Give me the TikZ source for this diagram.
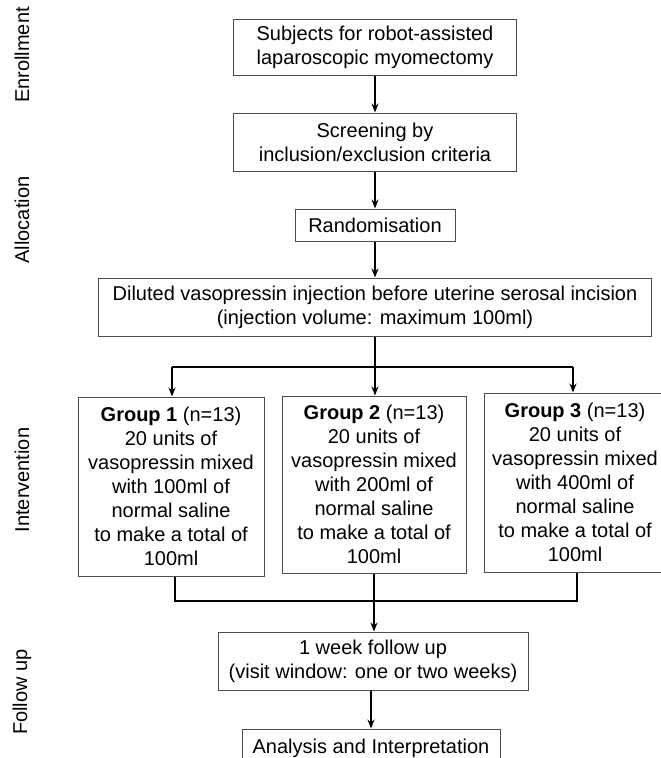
\documentclass[tikz,border=0pt]{standalone}
\usepackage{fontspec}
\setmainfont{Liberation Sans}
\usetikzlibrary{arrows.meta}
\begin{document}
\begin{tikzpicture}[x=1pt,y=-1pt,
  every node/.style={font=\fontsize{20}{24}\selectfont},
  box/.style={draw=black!70,line width=1pt,align=center,inner sep=0pt,fill=white},
  link/.style={line width=1.8pt,black},
  arr/.style={link,-{Stealth[length=9pt,width=7pt]}},
  side/.style={rotate=90,anchor=center}]
\useasboundingbox (0,0) rectangle (661,758);
\fill[white] (0,0) rectangle (661,758);

\node[box,minimum width=283pt,minimum height=56pt] (b1) at (375,47)
  {Subjects for robot-assisted\\laparoscopic myomectomy};
\node[box,minimum width=283pt,minimum height=58pt] (b2) at (375,142)
  {Screening by\\inclusion/exclusion criteria};
\node[box,minimum width=160pt,minimum height=32pt] (rand) at (375,225)
  {Randomisation};
\node[box,minimum width=553pt,minimum height=58pt] (dil) at (375,307)
  {Diluted vasopressin injection before uterine serosal incision\\(injection volume: maximum 100ml)};

\node[box,minimum width=186pt,minimum height=179pt] (g1) at (171,486.5)
  {\textbf{Group 1} (n=13)\\20 units of\\vasopressin mixed\\with 100ml of\\normal saline\\to make a total of\\100ml};
\node[box,minimum width=184pt,minimum height=177pt] (g2) at (374,484.5)
  {\textbf{Group 2} (n=13)\\20 units of\\vasopressin mixed\\with 200ml of\\normal saline\\to make a total of\\100ml};
\node[box,minimum width=182pt,minimum height=179pt] (g3) at (575,482.5)
  {\textbf{Group 3} (n=13)\\20 units of\\vasopressin mixed\\with 400ml of\\normal saline\\to make a total of\\100ml};

\node[box,minimum width=310pt,minimum height=58pt] (fu) at (373,661)
  {1 week follow up\\(visit window: one or two weeks)};
\node[box,minimum width=258pt,minimum height=38pt] (an) at (371,748)
  {Analysis and Interpretation};

\coordinate (j1) at (375,367);
\coordinate (j1l) at (172,367);
\coordinate (j1r) at (573,367);
\coordinate (j2) at (374,601);
\coordinate (j2l) at (175,601);
\coordinate (j2r) at (577,601);

\draw[arr] (b1) -- (b2);
\draw[arr] (b2) -- (rand);
\draw[arr] (rand) -- (dil);
\draw[link] (dil.south) -- (j1);
\draw[link] (j1l) -- (j1r);
\draw[arr] (j1l) -- (j1l |- g1.north);
\draw[arr] (j1) -- (j1 |- g2.north);
\draw[arr] (j1r) -- (j1r |- g3.north);

\draw[link] (j2l |- g1.south) -- (j2l) -- (j2r) -- (j2r |- g3.south);
\draw[link] (g2.south) -- (j2);
\draw[arr] (j2) -- (j2 |- fu.north);
\draw[arr] (fu.south -| an.north) -- (an.north);

\node[side] (l1) at (22,55) {Enrollment};
\node[side] (l2) at (22,220) {Allocation};
\node[side] (l3) at (22,480) {Intervention};
\node[side] (l4) at (22,692) {Follow up};
\end{tikzpicture}
\end{document}
